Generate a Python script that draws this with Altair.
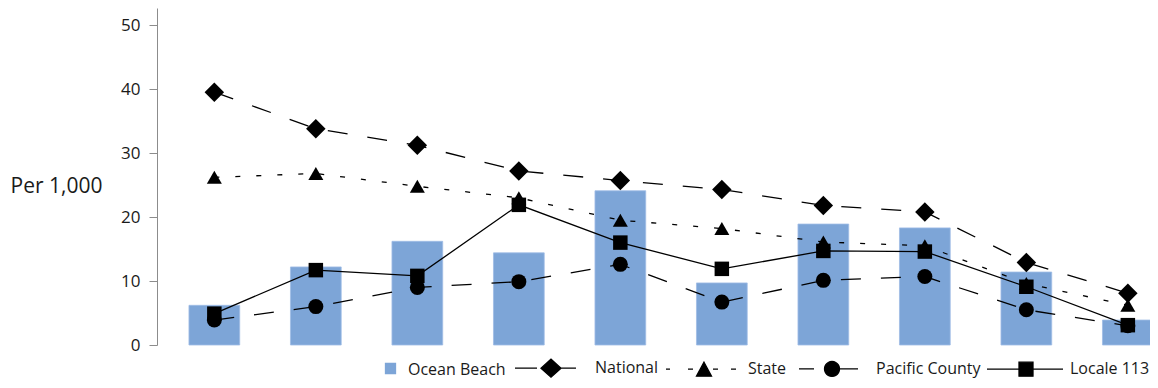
import altair as alt
import pandas as pd
import numpy as np

# ---------------- data ----------------
categories = ["1", "2", "3", "4", "5", "6", "7", "8", "9", "10"]
ocean_beach = [6.2, 12.2, 16.2, 14.4, 24.1, 9.7, 18.9, 18.3, 11.4, 3.9]
national = [39.5, 33.8, 31.2, 27.2, 25.7, 24.3, 21.8, 20.8, 12.9, 8.1]
state = [26.2, 26.8, 24.8, 23.0, 19.5, 18.2, 16.1, 15.5, 9.6, 6.2]
pacific_county = [3.9, 6.0, 9.0, 9.9, 12.6, 6.7, 10.1, 10.7, 5.5, 3.0]
locale_113 = [4.9, 11.7, 10.8, 21.9, 16.0, 11.9, 14.7, 14.6, 9.1, 3.1]

series_names = ["Ocean Beach", "National", "State", "Pacific County", "Locale 113"]
y_ticks = [0, 10, 20, 30, 40, 50]

# ---------------- styles ----------------
BAR_COLOR = "#7DA5D7"
FONT = "Open Sans"
TXT = "#1a1a1a"

x_scale = alt.Scale(domain=categories, range=[0, 1001], paddingInner=0.5,
                    paddingOuter=0.181, align=0.87)
y_scale = alt.Scale(domain=[0, 52.66], nice=False, zero=True)
y_axis = alt.Axis(values=y_ticks, title="Per 1,000", titleAngle=0, titleAlign="left",
                  titleBaseline="middle", titleX=-147, titleY=178, titleFont=FONT,
                  titleFontSize=21, titleFontWeight="normal", titleColor=TXT,
                  labelFont=FONT, labelFontSize=17, labelColor=TXT, labelPadding=9,
                  tickSize=8, tickColor="#8c8c8c", domainColor="#8c8c8c",
                  grid=False)

X = alt.X("cat:N", sort=categories, scale=x_scale, axis=None)


def Y(field):
    return alt.Y(f"{field}:Q", scale=y_scale, axis=y_axis)


bars_df = pd.DataFrame({"cat": categories, "value": ocean_beach})
bars = alt.Chart(bars_df).mark_bar(color=BAR_COLOR, stroke="#9fbde6", strokeWidth=0.8).encode(
    x=X, y=Y("value"))

line_specs = [
    ("National", national, [20, 20], "diamond", 380),
    ("State", state, [5, 16], "triangle-up", 225),
    ("Pacific County", pacific_county, [20, 20], "circle", 225),
    ("Locale 113", locale_113, None, "square", 210),
]

layers = [bars]
for name, vals, dash, shape, size in line_specs:
    df = pd.DataFrame({"cat": categories, "value": vals})
    line_kw = dict(color="black", strokeWidth=1.3)
    if dash:
        line_kw["strokeDash"] = dash
    ln = alt.Chart(df).mark_line(**line_kw).encode(x=X, y=Y("value"))
    pt = alt.Chart(df).mark_point(shape=shape, filled=True, size=size, color="black",
                                  opacity=1).encode(x=X, y=Y("value"))
    layers += [ln, pt]

# ---------------- legend (symbol paths in unit box) ----------------
U = 43.25


def f(v):
    return f"{v / U:.4f}"


def hseg(a, b):
    return f"M{f(a)},0L{f(b)},0"


circ_pts = [(7.5 * np.cos(t), 7.5 * np.sin(t)) for t in np.linspace(0, 2 * np.pi, 25)[:-1]]
circle_path = "M" + "L".join(f"{f(px)},{f(py)}" for px, py in circ_pts) + "Z"

legend_paths = [
    f"M{f(21.5)},{f(-6.5)}L{f(31.5)},{f(-6.5)}L{f(31.5)},{f(3.5)}L{f(21.5)},{f(3.5)}Z",
    hseg(-36, -14) + f"M{f(-10)},0L0,{f(-9)}L{f(10)},0L0,{f(9)}Z" + hseg(10, 25),
    hseg(-38, -34) + hseg(-16, -11) + f"M0,{f(-7)}L{f(7.5)},{f(7)}L{f(-7.5)},{f(7)}Z"
    + hseg(9, 14) + hseg(27, 32),
    hseg(-33, -18) + circle_path + hseg(7.5, 26),
    hseg(-39, 37) + f"M{f(-7)},{f(-7)}L{f(7)},{f(-7)}L{f(7)},{f(7)}L{f(-7)},{f(7)}Z",
]
legend_colors = [BAR_COLOR, "black", "black", "black", "black"]

leg_df = pd.DataFrame({"entry": series_names, "v": [None] * 5})
leg = alt.Legend(title=None, orient="none", legendX=163, legendY=316, direction="horizontal",
                 symbolSize=7482, symbolStrokeWidth=1.3, symbolOpacity=1,
                 labelFont=FONT, labelFontSize=16, labelColor=TXT, labelOffset=0,
                 columnPadding=1, padding=0, labelLimit=300)
legend_layer = alt.Chart(leg_df).mark_point(filled=True).encode(
    y=Y("v"),
    shape=alt.Shape("entry:N", scale=alt.Scale(domain=series_names, range=legend_paths),
                    legend=leg),
    fill=alt.Fill("entry:N", scale=alt.Scale(domain=series_names, range=legend_colors),
                  legend=leg),
    stroke=alt.Stroke("entry:N", scale=alt.Scale(domain=series_names, range=legend_colors),
                      legend=leg),
)
layers.append(legend_layer)

chart = alt.layer(*layers).properties(
    width=993, height=337,
    padding={"left": 149, "top": 0, "right": 0, "bottom": 35},
    autosize=alt.AutoSizeParams(type="none"),
).configure_view(stroke=None)

chart.save("out.html", embed_options={"renderer": "svg", "actions": False})
